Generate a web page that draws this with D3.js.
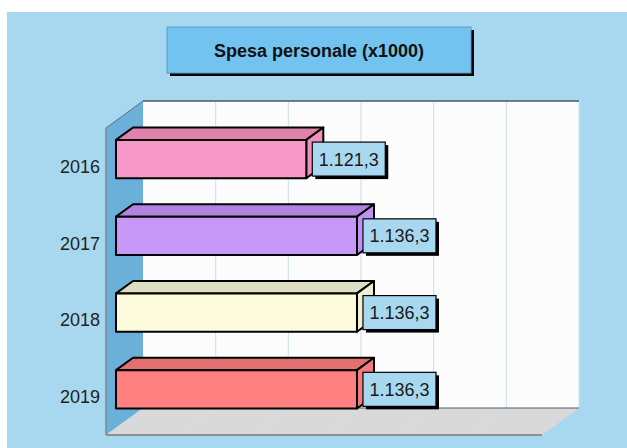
<!DOCTYPE html>
<html>
<head>
<meta charset="utf-8">
<script src="https://cdn.jsdelivr.net/npm/d3@7"></script>
<style>
  html, body { margin: 0; padding: 0; background: #ffffff; }
  svg { display: block; }
  text { font-family: "Liberation Sans", Arial, sans-serif; }
</style>
</head>
<body>
<svg id="chart" width="627" height="448"></svg>
<script>
// Personnel expenses by year (thousands)
const years = ["2016", "2017", "2018", "2019"];
const values = [1121.3, 1136.3, 1136.3, 1136.3];
const valueLabels = ["1.121,3", "1.136,3", "1.136,3", "1.136,3"];
const frontColors = ["#f898c8", "#c898f8", "#fcfcdc", "#ff8080"];
const topColors = ["#de82ac", "#b283e2", "#dcdcc2", "#e27070"];
const sideColors = ["#f090c0", "#c090f0", "#f0f0d0", "#f47a7a"];
const valueDomain = [1065, 1194];
const gridCount = 6;
const title = "Spesa personale (x1000)";

const svg = d3.select("#chart");

// background panel
svg.append("rect").attr("x", 7).attr("y", 12).attr("width", 620).attr("height", 436)
  .attr("fill", "#a8d8f0");

// plot frame (front plane + depth vector)
const fx = 106, fy = 128, pw = 436, ph = 307;
const ddx = 37, ddy = -27;

const x = d3.scaleLinear().domain(valueDomain).range([0, pw]);
const y = d3.scaleBand().domain(years).range([0, ph]).paddingInner(0.5).paddingOuter(0.25);

const P = (px, py, z) => [fx + px + ddx * z, fy + py + ddy * z];
const poly = pts => "M" + pts.map(p => p.join(",")).join("L") + "Z";

// back wall
svg.append("rect").attr("x", fx + ddx).attr("y", fy + ddy).attr("width", pw).attr("height", ph)
  .attr("fill", "#fcfcfc");

// left wall
svg.append("path").attr("d", poly([P(0, 0, 0), P(0, 0, 1), P(0, ph, 1), P(0, ph, 0)]))
  .attr("fill", "#6ab0d8");

// floor
svg.append("path").attr("d", poly([P(0, ph, 0), P(0, ph, 1), P(pw, ph, 1), P(pw, ph, 0)]))
  .attr("fill", "#d9d9d9");

// grid lines on back wall and floor
const gx = d3.scaleLinear().domain([0, gridCount]).range([0, pw]);
const gridIdx = d3.range(1, gridCount + 1);
svg.append("g").selectAll("line").data(gridIdx).join("line")
  .attr("x1", d => P(gx(d), 0, 1)[0]).attr("x2", d => P(gx(d), ph, 1)[0])
  .attr("y1", d => P(gx(d), 0, 1)[1]).attr("y2", d => P(gx(d), ph, 1)[1])
  .attr("stroke", "#cfe3ef").attr("stroke-width", 1.2);
svg.append("g").selectAll("line").data(d3.range(1, gridCount)).join("line")
  .attr("x1", d => P(gx(d), ph, 0)[0]).attr("x2", d => P(gx(d), ph, 1)[0])
  .attr("y1", d => P(gx(d), ph, 0)[1]).attr("y2", d => P(gx(d), ph, 1)[1])
  .attr("stroke", "#cfe0ea").attr("stroke-width", 1);

// frame edges
svg.append("line").attr("x1", P(0, 0, 1)[0]).attr("y1", P(0, 0, 1)[1])
  .attr("x2", P(pw, 0, 1)[0]).attr("y2", P(pw, 0, 1)[1])
  .attr("stroke", "#4e5766").attr("stroke-width", 1.5);
svg.append("line").attr("x1", P(0, ph, 1)[0]).attr("y1", P(0, ph, 1)[1])
  .attr("x2", P(pw, ph, 1)[0]).attr("y2", P(pw, ph, 1)[1])
  .attr("stroke", "#555c66").attr("stroke-width", 1.2);
svg.append("line").attr("x1", P(0, 0, 0)[0]).attr("y1", P(0, 0, 0)[1])
  .attr("x2", P(0, 0, 1)[0]).attr("y2", P(0, 0, 1)[1])
  .attr("stroke", "#56708a").attr("stroke-width", 1);
svg.append("line").attr("x1", P(0, 0, 0)[0]).attr("y1", P(0, 0, 0)[1])
  .attr("x2", P(0, ph, 0)[0]).attr("y2", P(0, ph, 0)[1])
  .attr("stroke", "#7a8a96").attr("stroke-width", 1.5);
svg.append("line").attr("x1", P(0, ph, 0)[0]).attr("y1", P(0, ph, 0)[1])
  .attr("x2", P(pw, ph, 0)[0]).attr("y2", P(pw, ph, 0)[1])
  .attr("stroke", "#8a9096").attr("stroke-width", 2);

// bars
const z0 = 0.27, z1 = 0.73;
const bars = svg.append("g").selectAll("g").data(years).join("g");
bars.each(function (yr, i) {
  const g = d3.select(this);
  const x0 = x(valueDomain[0]), x1 = x(values[i]);
  const t = y(yr), b = y(yr) + y.bandwidth();
  const common = s => s.attr("stroke", "#000").attr("stroke-width", 2).attr("stroke-linejoin", "round");
  // top face
  common(g.append("path").attr("d", poly([P(x0, t, z0), P(x0, t, z1), P(x1, t, z1), P(x1, t, z0)]))
    .attr("fill", topColors[i]));
  // side face
  common(g.append("path").attr("d", poly([P(x1, t, z0), P(x1, t, z1), P(x1, b, z1), P(x1, b, z0)]))
    .attr("fill", sideColors[i]));
  // front face
  common(g.append("path").attr("d", poly([P(x0, t, z0), P(x1, t, z0), P(x1, b, z0), P(x0, b, z0)]))
    .attr("fill", frontColors[i]));
});

// value labels
const lw = 73, lh = 34;
const labels = svg.append("g").selectAll("g").data(years).join("g")
  .attr("transform", (yr, i) => {
    const p = P(x(values[i]), y(yr) + y.bandwidth() / 2, z0);
    return `translate(${p[0] + 6},${p[1] - lh / 2})`;
  });
labels.append("rect").attr("x", 3).attr("y", 3).attr("width", lw).attr("height", lh).attr("fill", "#000");
labels.append("rect").attr("width", lw).attr("height", lh).attr("fill", "#a8d8f0")
  .attr("stroke", "#000").attr("stroke-width", 1.2);
labels.append("text").attr("x", lw / 2).attr("y", lh / 2 + 6.5).attr("text-anchor", "middle")
  .attr("font-size", "18px").attr("fill", "#1a1a1a").text((d, i) => valueLabels[i]);

// category labels
svg.append("g").selectAll("text").data(years).join("text")
  .attr("x", 100).attr("y", yr => fy + y(yr) + y.bandwidth() / 2 + 6.5)
  .attr("text-anchor", "end").attr("font-size", "18px").attr("fill", "#222").text(d => d);

// title box
const tb = { x: 167, y: 27, w: 304, h: 46 };
svg.append("rect").attr("x", tb.x + 3).attr("y", tb.y + 3).attr("width", tb.w).attr("height", tb.h).attr("fill", "#000");
svg.append("rect").attr("x", tb.x).attr("y", tb.y).attr("width", tb.w).attr("height", tb.h)
  .attr("fill", "#72c3f0").attr("stroke", "#5a9cc4").attr("stroke-width", 1);
svg.append("text").attr("x", tb.x + tb.w / 2).attr("y", tb.y + tb.h / 2 + 6.5).attr("text-anchor", "middle")
  .attr("font-size", "18px").attr("font-weight", "bold").attr("fill", "#111").text(title);
</script>
</body>
</html>
